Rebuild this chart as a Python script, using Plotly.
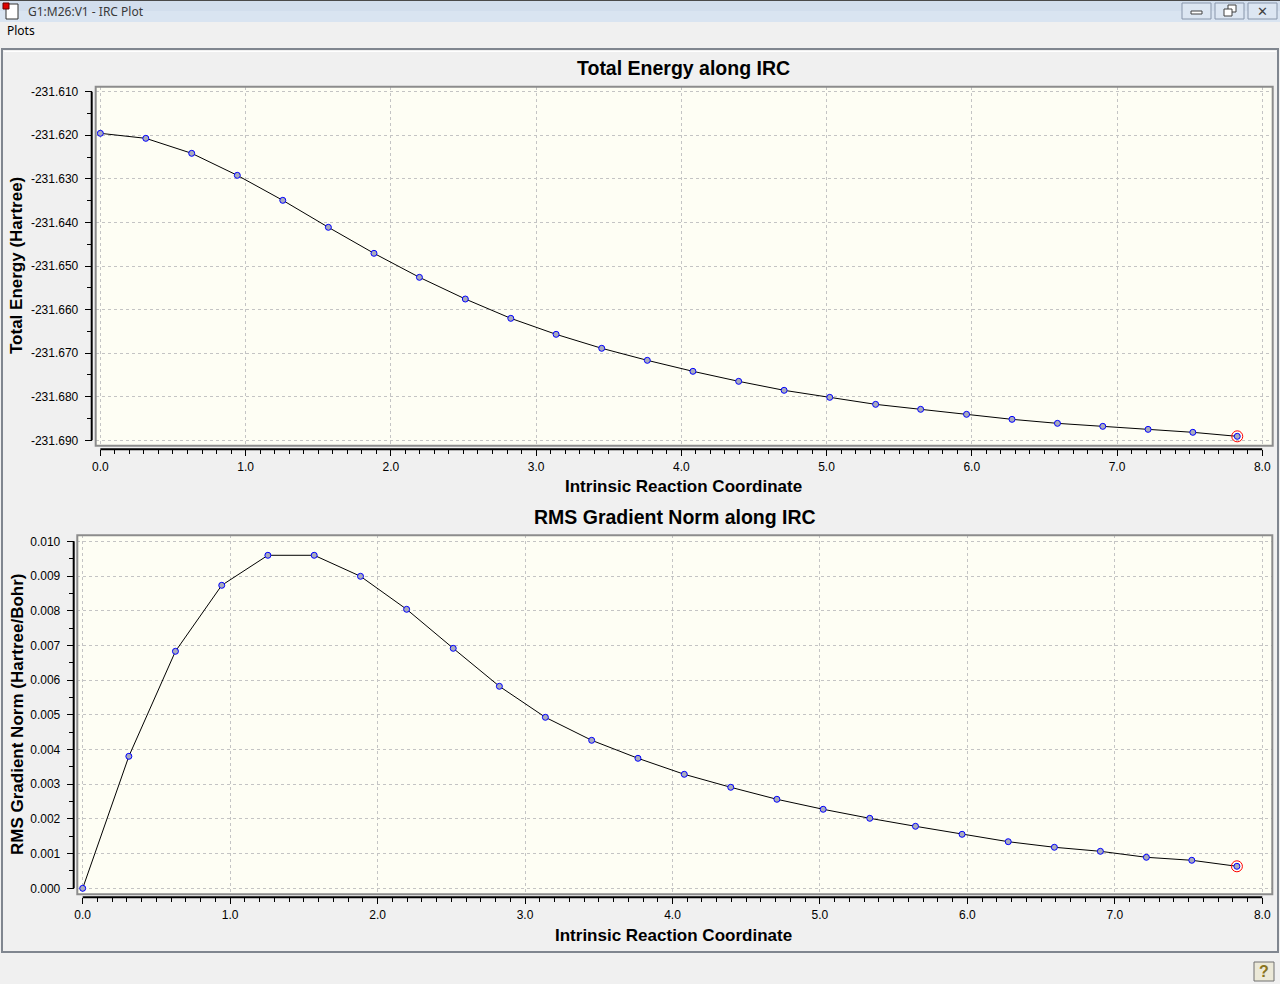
import plotly.graph_objects as go

W, H = 1280, 984

# IRC points
irc = [0.000, 0.313, 0.629, 0.943, 1.256, 1.570, 1.884, 2.197, 2.513, 2.826,
       3.138, 3.452, 3.766, 4.080, 4.395, 4.708, 5.022, 5.338, 5.648, 5.964,
       6.277, 6.590, 6.902, 7.214, 7.522, 7.828]

energy = [-231.61955, -231.62070, -231.62414, -231.62919, -231.63493, -231.64112,
          -231.64709, -231.65260, -231.65758, -231.66201, -231.66568, -231.66889,
          -231.67165, -231.67417, -231.67647, -231.67853, -231.68014, -231.68175,
          -231.68289, -231.68404, -231.68519, -231.68611, -231.68680, -231.68749,
          -231.68817, -231.68909]

rms_grad = [0.000000, 0.003804, 0.006830, 0.008732, 0.009597, 0.009597, 0.008991,
            0.008040, 0.006916, 0.005821, 0.004928, 0.004265, 0.003746, 0.003285,
            0.002911, 0.002565, 0.002277, 0.002017, 0.001787, 0.001556, 0.001343,
            0.001182, 0.001066, 0.000893, 0.000807, 0.000634]

x_ticks = [0, 1, 2, 3, 4, 5, 6, 7, 8]
x_ticktext = ["0.0", "1.0", "2.0", "3.0", "4.0", "5.0", "6.0", "7.0", "8.0"]
e_ticks = [-231.690, -231.680, -231.670, -231.660, -231.650, -231.640, -231.630, -231.620, -231.610]
e_ticktext = ["-231.690", "-231.680", "-231.670", "-231.660", "-231.650",
              "-231.640", "-231.630", "-231.620", "-231.610"]
g_ticks = [0.000, 0.001, 0.002, 0.003, 0.004, 0.005, 0.006, 0.007, 0.008, 0.009, 0.010]
g_ticktext = ["0.000", "0.001", "0.002", "0.003", "0.004", "0.005",
              "0.006", "0.007", "0.008", "0.009", "0.010"]


def px(x):
    return x / W


def py(y):
    return 1 - y / H


FONT = "Liberation Sans, Arial, sans-serif"
UI_FONT = "Noto Sans, Open Sans, sans-serif"
PLOT_BG = "#fefef4"
GRID = "#c4c4c4"
BORDER = "#8c8c8c"

fig = go.Figure()

marker = dict(size=6, color="#a9abbd", line=dict(color="#0000ff", width=1))
ring = dict(symbol="circle-open", size=11, color="red", line=dict(color="red", width=1))

fig.add_trace(go.Scatter(x=irc, y=energy, mode="lines+markers",
                         line=dict(color="black", width=1), marker=marker,
                         xaxis="x", yaxis="y", showlegend=False))
fig.add_trace(go.Scatter(x=irc[-1:], y=energy[-1:], mode="markers", marker=ring,
                         xaxis="x", yaxis="y", showlegend=False))
fig.add_trace(go.Scatter(x=irc, y=rms_grad, mode="lines+markers",
                         line=dict(color="black", width=1), marker=marker,
                         xaxis="x2", yaxis="y2", showlegend=False))
fig.add_trace(go.Scatter(x=irc[-1:], y=rms_grad[-1:], mode="markers", marker=ring,
                         xaxis="x2", yaxis="y2", showlegend=False))

tickfont = dict(family=FONT, size=12, color="#000000")


def xaxis_cfg(left, right, line_y, rng):
    return dict(domain=[px(left), px(right)], range=rng, anchor="free",
                position=py(line_y), tickmode="array", tickvals=x_ticks,
                ticktext=x_ticktext, ticks="outside", ticklen=6, tickwidth=1,
                tickcolor="black", showline=False, zeroline=False,
                showgrid=True, gridcolor=GRID, griddash="3px,3px", gridwidth=1,
                tickfont=tickfont, fixedrange=True, automargin=False,
                minor=dict(dtick=0.1, tick0=0, ticks="outside", ticklen=4,
                           tickcolor="black", showgrid=False))


def yaxis_cfg(top, bottom, line_x, rng, vals, text, minor_step):
    return dict(domain=[py(bottom), py(top)], range=rng, anchor="free",
                position=px(line_x), tickmode="array", tickvals=vals,
                ticktext=text, ticks="outside", ticklen=7, tickwidth=1,
                tickcolor="black", showline=False, zeroline=False,
                showgrid=True, gridcolor=GRID, griddash="3px,3px", gridwidth=1,
                tickfont=tickfont, fixedrange=True, ticklabelstandoff=4,
                automargin=False,
                minor=dict(dtick=minor_step, tick0=0, ticks="outside", ticklen=5,
                           tickcolor="black", showgrid=False))


def text_at(text, x, y, size, family=FONT, color="black", anchor="center", angle=0):
    return dict(text=text, xref="paper", yref="paper", x=px(x), y=py(y),
                xanchor=anchor, yanchor="middle", textangle=angle, showarrow=False,
                font=dict(family=family, size=size, color=color))


shapes = []
annotations = []

# window chrome: title bar
shapes.append(dict(type="rect", xref="paper", yref="paper", x0=0, x1=1,
                   y0=py(22), y1=py(11), fillcolor="#d9e4f1", line=dict(width=0), layer="below"))
shapes.append(dict(type="rect", xref="paper", yref="paper", x0=0, x1=1,
                   y0=py(11), y1=1, fillcolor="#d2deed", line=dict(width=0), layer="below"))
shapes.append(dict(type="line", xref="paper", yref="paper", x0=0, x1=1,
                   y0=py(0.5), y1=py(0.5), line=dict(color="#4a4a4a", width=1)))
# icon
shapes.append(dict(type="rect", xref="paper", yref="paper", x0=px(6), x1=px(18),
                   y0=py(19), y1=py(4), fillcolor="white", line=dict(color="#333", width=1)))
shapes.append(dict(type="rect", xref="paper", yref="paper", x0=px(3), x1=px(9),
                   y0=py(9), y1=py(3), fillcolor="#e00000", line=dict(color="#600", width=1)))
annotations.append(text_at("G1:M26:V1 - IRC Plot", 26, 11, 12, UI_FONT, "#3a3a3a", "left"))
# window buttons
for bx0, bx1 in [(1182, 1211), (1215, 1244), (1248, 1277)]:
    shapes.append(dict(type="rect", xref="paper", yref="paper", x0=px(bx0), x1=px(bx1),
                       y0=py(19), y1=py(3), fillcolor="#dce6f2",
                       line=dict(color="#8896ab", width=1)))
shapes.append(dict(type="rect", xref="paper", yref="paper", x0=px(1191), x1=px(1202),
                   y0=py(14), y1=py(11), fillcolor="white", line=dict(color="#404040", width=1)))
shapes.append(dict(type="rect", xref="paper", yref="paper", x0=px(1228), x1=px(1236),
                   y0=py(12), y1=py(5), fillcolor="white", line=dict(color="#404040", width=1)))
shapes.append(dict(type="rect", xref="paper", yref="paper", x0=px(1224), x1=px(1232),
                   y0=py(16), y1=py(9), fillcolor="white", line=dict(color="#404040", width=1)))
annotations.append(text_at("✕", 1262.5, 11, 13, "DejaVu Sans", "#404040"))
# menu
annotations.append(text_at("Plots", 5, 31, 12, UI_FONT, "#000000", "left"))
# panel frame (outline only so the cream plot backgrounds stay visible)
shapes.append(dict(type="rect", xref="paper", yref="paper", x0=px(2), x1=px(1278),
                   y0=py(952), y1=py(49), fillcolor="rgba(0,0,0,0)",
                   line=dict(color="#80868f", width=2)))
shapes.append(dict(type="line", xref="paper", yref="paper", x0=px(4), x1=px(1276),
                   y0=py(51.5), y1=py(51.5), line=dict(color="white", width=1)))
# help button
shapes.append(dict(type="rect", xref="paper", yref="paper", x0=px(1254), x1=px(1274),
                   y0=py(981), y1=py(962), fillcolor="#ece9d8",
                   line=dict(color="#707070", width=1)))
annotations.append(text_at("<b>?</b>", 1264, 971.5, 16, FONT, "#8a7420"))

# plot frames, axis lines, titles
panels = [
    dict(xa="x", ya="y", xline=449.3, yline=91.7,
         title="Total Energy along IRC", title_x=683.5, title_y=68,
         xt_x=683, xt_y=487, yt_y=266, ytitle="Total Energy (Hartree)",
         ylo=e_ticks[0], yhi=e_ticks[-1]),
    dict(xa="x2", ya="y2", xline=897.3, yline=73.7,
         title="RMS Gradient Norm along IRC", title_x=675, title_y=517,
         xt_x=673.5, xt_y=935, yt_y=715, ytitle="RMS Gradient Norm (Hartree/Bohr)",
         ylo=g_ticks[0], yhi=g_ticks[-1]),
]
for p in panels:
    shapes.append(dict(type="rect", xref=p["xa"] + " domain", yref=p["ya"] + " domain",
                       x0=0, x1=1, y0=0, y1=1, line=dict(color=BORDER, width=2)))
    shapes.append(dict(type="line", xref=p["xa"], yref="paper", x0=x_ticks[0], x1=x_ticks[-1],
                       y0=py(p["xline"]), y1=py(p["xline"]), line=dict(color="black", width=2)))
    shapes.append(dict(type="line", xref="paper", yref=p["ya"], x0=px(p["yline"]),
                       x1=px(p["yline"]), y0=p["ylo"], y1=p["yhi"],
                       line=dict(color="black", width=2)))
    annotations.append(text_at("<b>" + p["title"] + "</b>", p["title_x"], p["title_y"], 19.5))
    annotations.append(text_at("<b>Intrinsic Reaction Coordinate</b>", p["xt_x"], p["xt_y"], 17))
    annotations.append(text_at("<b>" + p["ytitle"] + "</b>", 17, p["yt_y"], 17, angle=-90))

fig.update_layout(
    width=W, height=H,
    margin=dict(l=0, r=0, t=0, b=0, pad=0, autoexpand=False),
    paper_bgcolor="#f0f0f0",
    plot_bgcolor=PLOT_BG,
    xaxis=xaxis_cfg(95.7, 1272.7, 449.3, [-0.032, 8.072]),
    yaxis=yaxis_cfg(86.7, 445.7, 91.7, [-231.69124, -231.60885], e_ticks, e_ticktext, 0.005),
    xaxis2=xaxis_cfg(77.3, 1272.3, 897.3, [-0.0366, 8.068]),
    yaxis2=yaxis_cfg(535.3, 894.3, 73.7, [-0.000173, 0.010173], g_ticks, g_ticktext, 0.0005),
    shapes=shapes,
    annotations=annotations,
    showlegend=False,
)

# page body has a default 8px margin; drop it so the figure fills the window
fig.write_html("out.html", config={"displayModeBar": False},
               post_script="document.body.style.margin='0';"
                           "document.body.style.overflow='hidden';")
